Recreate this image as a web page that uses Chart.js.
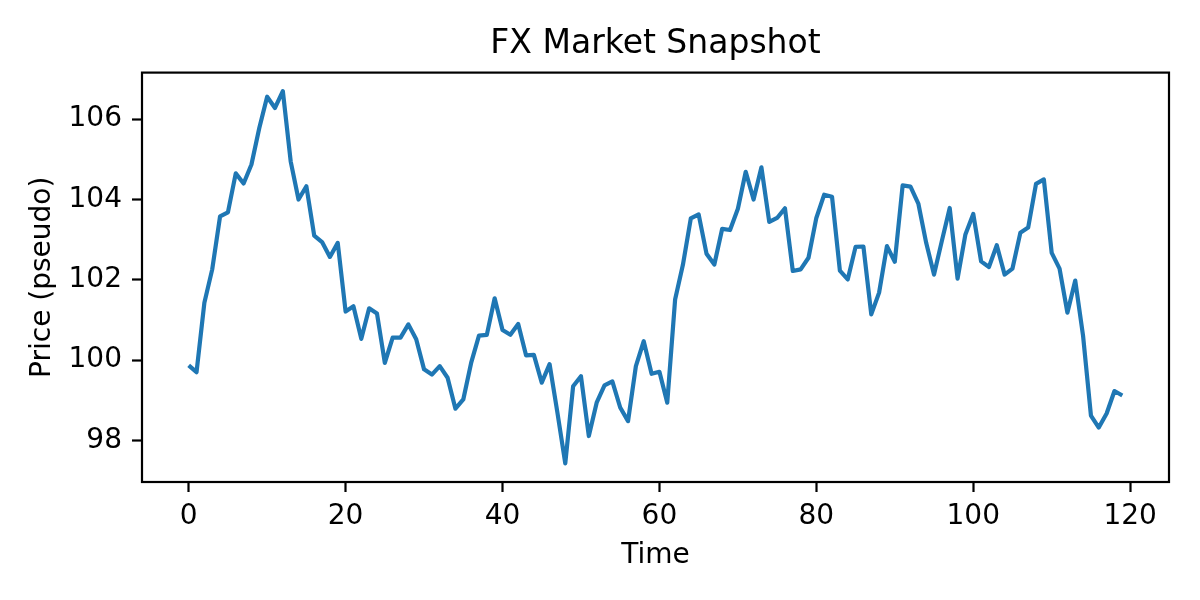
<!DOCTYPE html>
<html>
<head>
<meta charset="utf-8">
<script src="https://cdn.jsdelivr.net/npm/chart.js@4.4.1/dist/chart.umd.min.js"></script>
<style>
  html, body { margin: 0; padding: 0; background: #fff; }
  canvas { display: block; }
</style>
</head>
<body>
<canvas id="chart" width="1200" height="600"></canvas>
<script>
// time index (x) and pseudo price (y)
const times = [
  0, 1, 2, 3, 4, 5, 6, 7, 8, 9, 10, 11, 12, 13, 14, 15, 16, 17, 18, 19,
  20, 21, 22, 23, 24, 25, 26, 27, 28, 29, 30, 31, 32, 33, 34, 35, 36, 37, 38, 39,
  40, 41, 42, 43, 44, 45, 46, 47, 48, 49, 50, 51, 52, 53, 54, 55, 56, 57, 58, 59,
  60, 61, 62, 63, 64, 65, 66, 67, 68, 69, 70, 71, 72, 73, 74, 75, 76, 77, 78, 79,
  80, 81, 82, 83, 84, 85, 86, 87, 88, 89, 90, 91, 92, 93, 94, 95, 96, 97, 98, 99,
  100, 101, 102, 103, 104, 105, 106, 107, 108, 109, 110, 111, 112, 113, 114, 115, 116, 117, 118, 119
];
const prices = [
  99.87, 99.70, 101.43, 102.26, 103.58, 103.68, 104.65, 104.40, 104.87, 105.78,
  106.56, 106.28, 106.70, 104.95, 104.00, 104.33, 103.10, 102.94, 102.57, 102.92,
  101.21, 101.34, 100.53, 101.29, 101.16, 99.93, 100.56, 100.56, 100.89, 100.52,
  99.77, 99.64, 99.85, 99.56, 98.79, 99.02, 99.93, 100.61, 100.63, 101.54,
  100.75, 100.63, 100.90, 100.12, 100.13, 99.44, 99.90, 98.69, 97.43, 99.35,
  99.60, 98.11, 98.94, 99.37, 99.47, 98.82, 98.48, 99.85, 100.47, 99.66,
  99.71, 98.94, 101.51, 102.38, 103.53, 103.63, 102.65, 102.38, 103.27, 103.24,
  103.77, 104.69, 104.00, 104.80, 103.44, 103.54, 103.78, 102.22, 102.26, 102.55,
  103.54, 104.12, 104.07, 102.23, 102.01, 102.82, 102.83, 101.14, 101.68, 102.84,
  102.45, 104.35, 104.32, 103.90, 102.92, 102.13, 102.97, 103.79, 102.03, 103.13,
  103.64, 102.46, 102.32, 102.86, 102.13, 102.28, 103.17, 103.30, 104.39, 104.50,
  102.67, 102.28, 101.18, 101.98, 100.60, 98.62, 98.32, 98.67, 99.23, 99.12
];
const xTicks = [0, 20, 40, 60, 80, 100, 120];
const yTicks = [98, 100, 102, 104, 106];

const FONT = 'DejaVu Sans';

// closes the box: matplotlib draws all four spines
const frame = {
  id: 'frame',
  afterDraw(chart) {
    const { ctx, chartArea: a } = chart;
    ctx.save();
    ctx.strokeStyle = '#000';
    ctx.lineWidth = 2.2;
    ctx.strokeRect(a.left, a.top, a.right - a.left, a.bottom - a.top);
    ctx.restore();
  }
};

new Chart(document.getElementById('chart'), {
  type: 'line',
  data: {
    datasets: [{
      data: times.map((t, i) => ({ x: t, y: prices[i] })),
      borderColor: '#1f77b4',
      borderWidth: 4.2,
      borderJoinStyle: 'round',
      pointRadius: 0,
      tension: 0,
      fill: false
    }]
  },
  options: {
    responsive: false,
    animation: false,
    devicePixelRatio: 1,
    layout: { padding: { left: 0, right: 31, top: 0, bottom: 0 } },
    plugins: {
      legend: { display: false },
      tooltip: { enabled: false },
      title: {
        display: true,
        fullSize: false, // centre over the plot box, not the canvas
        text: 'FX Market Snapshot',
        color: '#000',
        font: { family: FONT, size: 33, weight: 'normal', lineHeight: 1.2 },
        padding: { top: 25, bottom: 8 }
      }
    },
    scales: {
      x: {
        type: 'linear',
        min: -5.95,
        max: 124.95,
        afterBuildTicks(scale) { scale.ticks = xTicks.map(v => ({ value: v })); },
        afterFit(scale) { scale.height = 118; },
        grid: { drawOnChartArea: false, drawTicks: true, tickLength: 10, tickWidth: 2.2, tickColor: '#000' },
        border: { display: false },
        ticks: { color: '#000', padding: 8, maxRotation: 0, font: { family: FONT, size: 28 } },
        title: {
          display: true,
          text: 'Time',
          color: '#000',
          font: { family: FONT, size: 28, lineHeight: 1.2 },
          padding: { top: 0, bottom: 27 }
        }
      },
      y: {
        type: 'linear',
        min: 96.965,
        max: 107.16,
        afterBuildTicks(scale) { scale.ticks = yTicks.map(v => ({ value: v })); },
        afterFit(scale) { scale.width = 142; },
        grid: { drawOnChartArea: false, drawTicks: true, tickLength: 10, tickWidth: 2.2, tickColor: '#000' },
        border: { display: false },
        ticks: { color: '#000', padding: 10, font: { family: FONT, size: 28 } },
        title: {
          display: true,
          text: 'Price (pseudo)',
          color: '#000',
          font: { family: FONT, size: 28, lineHeight: 1.2 },
          padding: { top: 26, bottom: 0 }
        }
      }
    }
  },
  plugins: [frame]
});
</script>
</body>
</html>
